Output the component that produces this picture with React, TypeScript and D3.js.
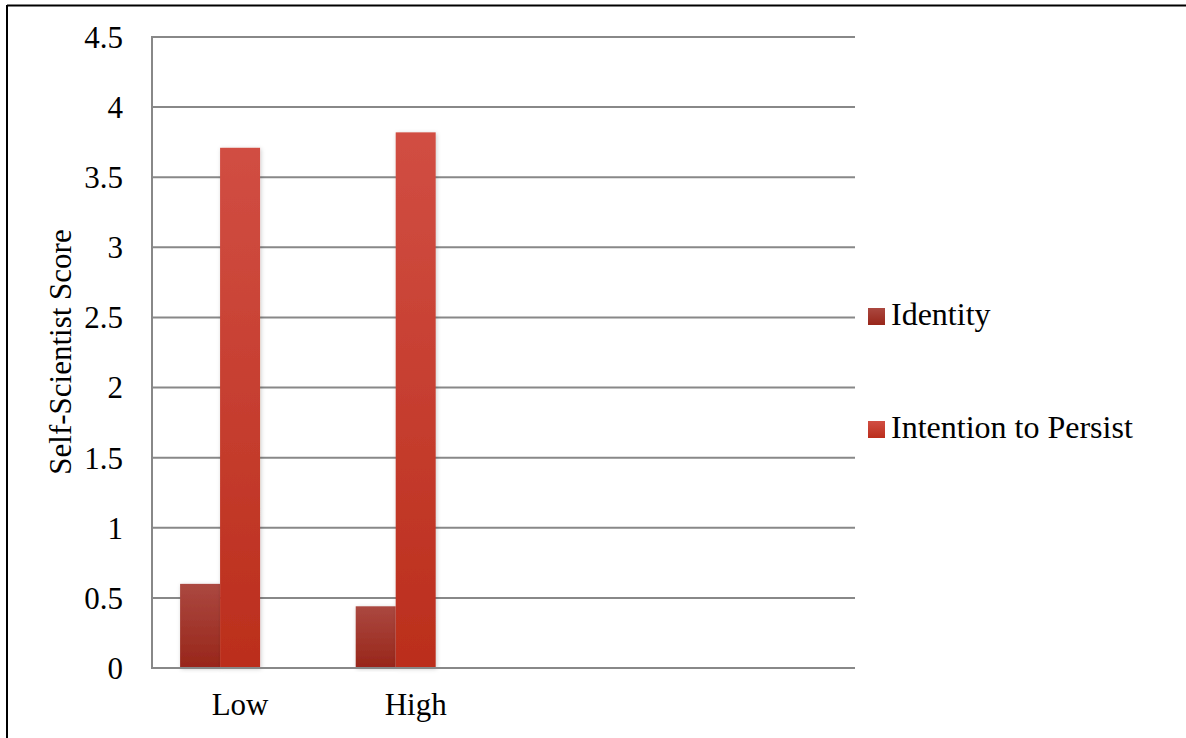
import React from "react";
import * as d3 from "d3";

const categories = ["Low", "High", "", " "];
const seriesNames = ["Identity", "Intention to Persist", "(empty)"];
const identityValues = [0.6, 0.44, null, null];
const persistValues = [3.71, 3.82, null, null];
const emptyValues = [null, null, null, null];
const yTicks = [0, 0.5, 1, 1.5, 2, 2.5, 3, 3.5, 4, 4.5];
const yTitle = "Self-Scientist Score";

const W = 1186;
const H = 738;
const plot = { left: 152, right: 855, top: 37, bottom: 668 };

export default function App() {
  const x = d3.scaleBand<string>().domain(categories).range([plot.left, plot.right]).paddingInner(0.317).paddingOuter(0.16);
  const inner = d3.scaleBand<string>().domain(seriesNames).range([0, x.bandwidth()]);
  const y = d3.scaleLinear().domain([0, 4.5]).range([plot.bottom, plot.top]);
  const font = "'Liberation Serif', 'Times New Roman', serif";
  const series = [
    { name: seriesNames[0], values: identityValues, grad: "gId", legend: true },
    { name: seriesNames[1], values: persistValues, grad: "gPer", legend: true },
    { name: seriesNames[2], values: emptyValues, grad: "gPer", legend: false },
  ];
  return (
    <svg width={W} height={H} style={{ position: "absolute", left: 0, top: 0, background: "#fff" }}>
      <defs>
        <linearGradient id="gId" x1="0" y1="0" x2="0" y2="1">
          <stop offset="0" stopColor="#ab4840" />
          <stop offset="1" stopColor="#98261a" />
        </linearGradient>
        <linearGradient id="gPer" x1="0" y1="0" x2="0" y2="1">
          <stop offset="0" stopColor="#d14e43" />
          <stop offset="1" stopColor="#bb2e1c" />
        </linearGradient>
        <filter id="sh" x="-20%" y="-5%" width="140%" height="110%">
          <feDropShadow dx="1" dy="1" stdDeviation="2" floodColor="#000" floodOpacity="0.2" />
        </filter>
      </defs>
      <line x1={7} y1={5.5} x2={W} y2={5.5} stroke="#000" strokeWidth={2} />
      <line x1={7} y1={5} x2={7} y2={H} stroke="#000" strokeWidth={2} />
      {yTicks.map((t) => (
        <g key={t}>
          <line x1={plot.left} x2={plot.right} y1={y(t)} y2={y(t)} stroke="#888" strokeWidth={2} />
          <text x={123} y={y(t)} dy="0.35em" textAnchor="end" fontFamily={font} fontSize={31} fill="#000">
            {t}
          </text>
        </g>
      ))}
      <line x1={plot.left} x2={plot.left} y1={plot.top - 1} y2={plot.bottom + 1} stroke="#888" strokeWidth={2} />
      {series.map((s) =>
        categories.map((c, i) => {
          const v = s.values[i];
          if (v == null) return null;
          const bx = (x(c) as number) + (inner(s.name) as number);
          return (
            <rect key={s.name + c} x={bx} y={y(v)} width={inner.bandwidth()} height={plot.bottom - y(v)} fill={`url(#${s.grad})`} filter="url(#sh)" />
          );
        })
      )}
      <line x1={plot.left} x2={plot.right} y1={y(0)} y2={y(0)} stroke="#888" strokeWidth={2} />
      {categories.map((c) => (
        <text key={c} x={(x(c) as number) + x.bandwidth() / 2} y={715} textAnchor="middle" fontFamily={font} fontSize={31} fill="#000">
          {c.trim()}
        </text>
      ))}
      <text transform={`translate(71,352) rotate(-90)`} textAnchor="middle" fontFamily={font} fontSize={31} fill="#000">
        {yTitle}
      </text>
      {series.filter((s) => s.legend).map((s, i) => (
        <g key={s.name} transform={`translate(868, ${308 + i * 113})`}>
          <rect x={0} y={0} width={17} height={17} fill={`url(#${s.grad})`} />
          <text x={23} y={17} fontFamily={font} fontSize={32} fill="#000">
            {s.name}
          </text>
        </g>
      ))}
    </svg>
  );
}
